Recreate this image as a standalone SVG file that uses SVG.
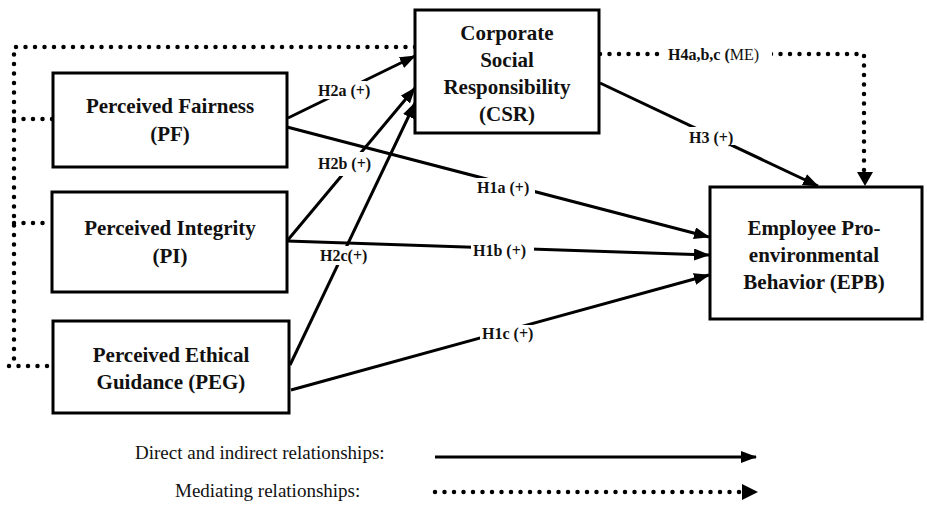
<svg xmlns="http://www.w3.org/2000/svg" width="927" height="505" viewBox="0 0 927 505">
<style>
.box{fill:#fff;stroke:#000;stroke-width:3}
.nt{font-family:"Liberation Serif","Times New Roman",serif;font-weight:bold;font-size:21px;text-anchor:middle;fill:#111}
.lbl{font-family:"Liberation Serif","Times New Roman",serif;font-weight:bold;font-size:16px;fill:#111}
.lg{font-family:"Liberation Serif","Times New Roman",serif;font-size:19px;fill:#111}
.solid{fill:none;stroke:#000;stroke-width:3}
.dot{fill:none;stroke:#000;stroke-width:4.5;stroke-linecap:round;stroke-dasharray:0 9.5}
.bg{fill:#fff}
</style>
<defs>
<marker id="ah" markerUnits="userSpaceOnUse" markerWidth="16" markerHeight="12" refX="15" refY="6" orient="auto">
<path d="M0,0 L16,6 L0,12 Z" fill="#000"/>
</marker>
</defs>
<g id="connectors">
<path class="dot" d="M415,47 H14 V366"/>
<path class="dot" d="M14,119 H53"/>
<path class="dot" d="M14,223 H52"/>
<path class="dot" d="M9,366 H53"/>
<path class="dot" d="M600,54 H864 V172"/>
<path d="M857,172 L865,172 L873,172 L865,186 Z" fill="#000"/>
<line class="solid" x1="288" y1="118" x2="415" y2="56" marker-end="url(#ah)"/>
<line class="solid" x1="287" y1="241" x2="415" y2="88" marker-end="url(#ah)"/>
<line class="solid" x1="290" y1="365" x2="415" y2="103" marker-end="url(#ah)"/>
<line class="solid" x1="287" y1="127" x2="709" y2="237" marker-end="url(#ah)"/>
<line class="solid" x1="287" y1="241" x2="709" y2="255" marker-end="url(#ah)"/>
<line class="solid" x1="291" y1="390" x2="709" y2="275" marker-end="url(#ah)"/>
<line class="solid" x1="600" y1="83" x2="818" y2="186" marker-end="url(#ah)"/>
<rect class="bg" x="317" y="81" width="60" height="18"/>
<text class="lbl" x="318" y="96">H2a (+)</text>
<rect class="bg" x="316" y="152" width="54" height="24"/>
<text class="lbl" x="318" y="169">H2b (+)</text>
<rect class="bg" x="319" y="246" width="49" height="19"/>
<text class="lbl" x="320" y="261">H2c(+)</text>
<rect class="bg" x="475" y="178" width="60" height="19"/>
<text class="lbl" x="477" y="193">H1a (+)</text>
<rect class="bg" x="471" y="242" width="63" height="18"/>
<text class="lbl" x="473" y="256">H1b (+)</text>
<rect class="bg" x="480" y="325" width="58" height="17"/>
<text class="lbl" x="482" y="339">H1c (+)</text>
<rect class="bg" x="687" y="127" width="50" height="18"/>
<text class="lbl" x="689" y="143">H3 (+)</text>
<rect class="bg" x="664" y="44" width="108" height="20"/>
<text class="lbl" x="668" y="60">H4a,b,c (<tspan font-weight="normal">ME)</tspan></text>
</g>
<g id="PF">
<rect class="box" x="53" y="73" width="234" height="94"/>
<text class="nt" x="170" y="113">Perceived Fairness</text>
<text class="nt" x="170" y="141">(PF)</text>
</g>
<g id="PI">
<rect class="box" x="52" y="192" width="235" height="100"/>
<text class="nt" x="170" y="235">Perceived Integrity</text>
<text class="nt" x="170" y="263">(PI)</text>
</g>
<g id="PEG">
<rect class="box" x="53" y="321" width="236" height="92"/>
<text class="nt" x="171" y="362">Perceived Ethical</text>
<text class="nt" x="171" y="389">Guidance (PEG)</text>
</g>
<g id="CSR">
<rect class="box" x="415" y="10" width="184" height="123"/>
<text class="nt" x="507" y="40">Corporate</text>
<text class="nt" x="507" y="67">Social</text>
<text class="nt" x="507" y="94">Responsibility</text>
<text class="nt" x="507" y="121">(CSR)</text>
</g>
<g id="EPB">
<rect class="box" x="710" y="187" width="212" height="132"/>
<text class="nt" x="814" y="235" font-size="22">Employee Pro-</text>
<text class="nt" x="814" y="262" font-size="22">environmental</text>
<text class="nt" x="814" y="289" font-size="22">Behavior (EPB)</text>
</g>
<g id="legend">
<text class="lg" x="135" y="459">Direct and indirect relationships:</text>
<text class="lg" x="175" y="497">Mediating relationships:</text>
<line class="solid" x1="435" y1="457" x2="756" y2="457" marker-end="url(#ah)"/>
<path class="dot" d="M435,492 H742"/>
<path d="M742,484 L758,492 L742,500 Z" fill="#000"/>
</g>
</svg>
